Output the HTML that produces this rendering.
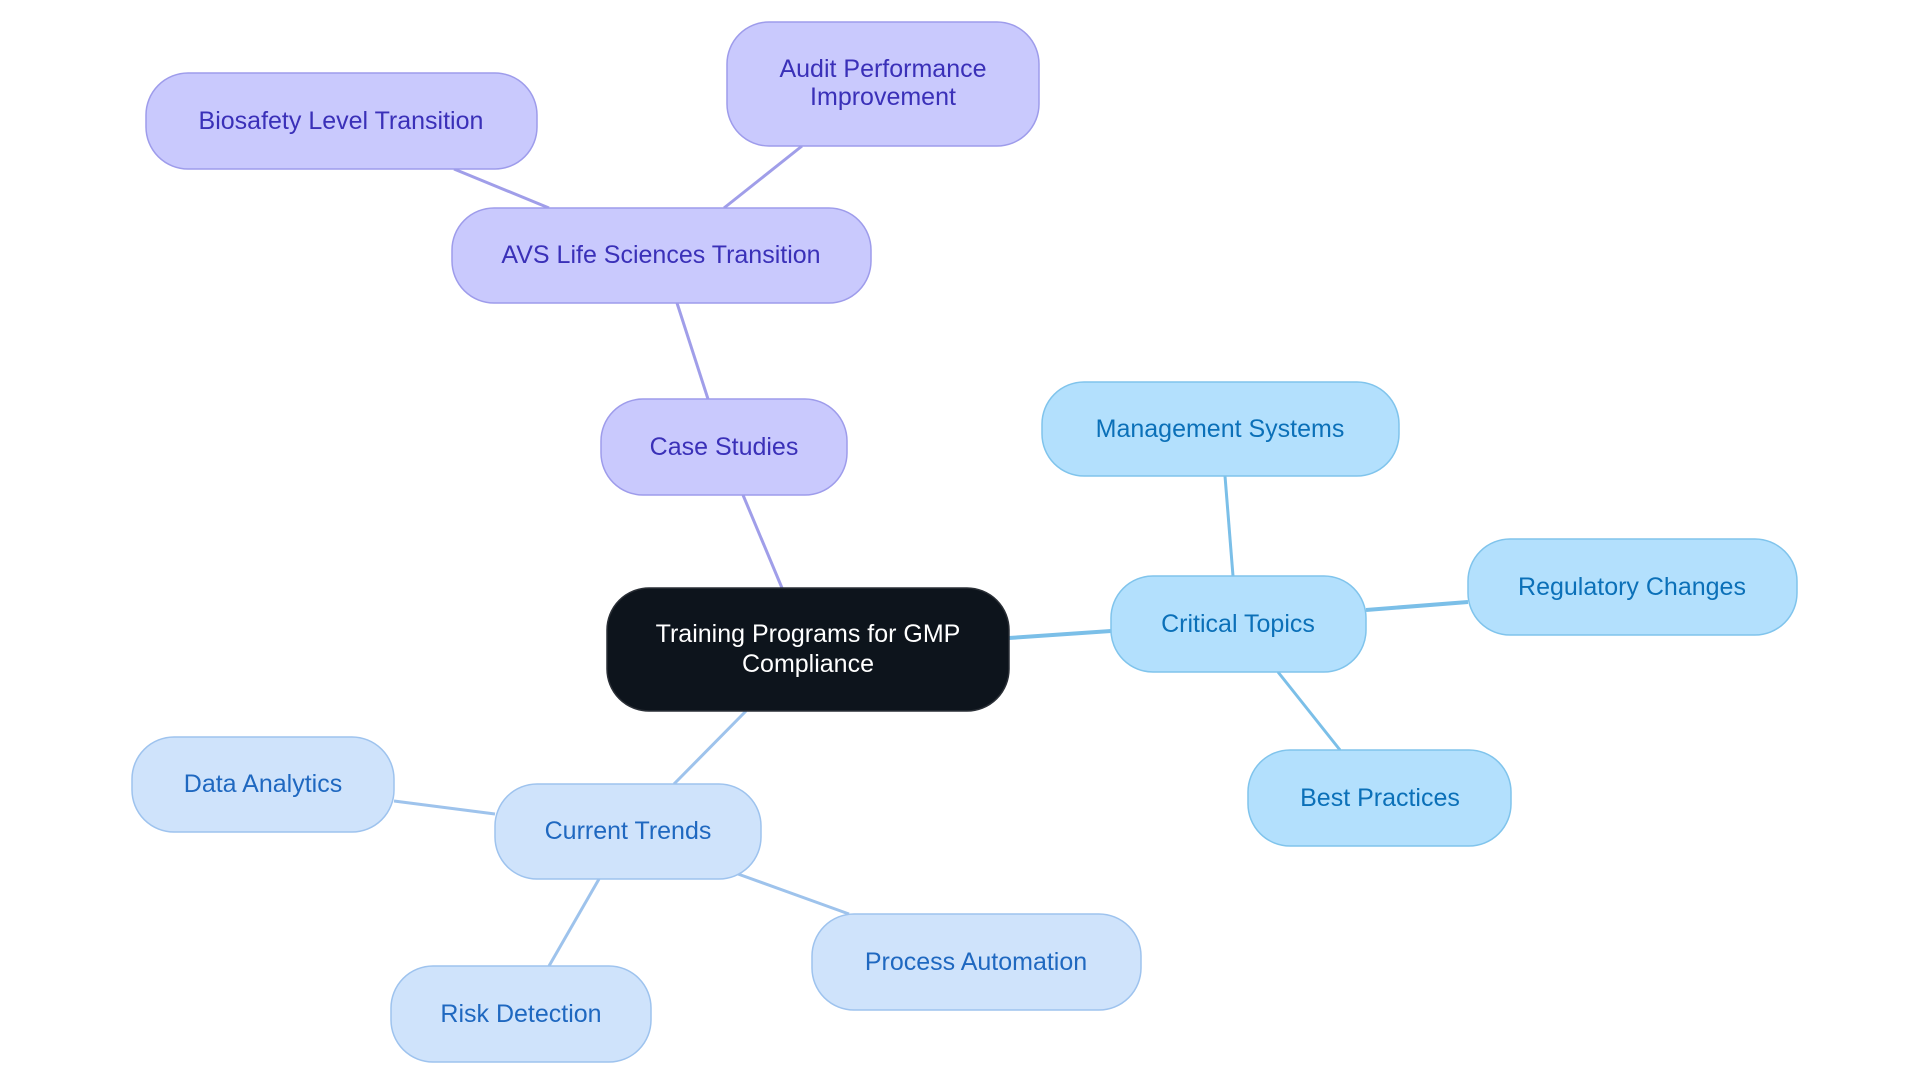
<!DOCTYPE html>
<html><head><meta charset="utf-8"><style>
html,body{margin:0;padding:0;background:#fff;width:1920px;height:1083px;overflow:hidden}
svg{display:block}
text{font-family:"Liberation Sans",sans-serif;font-size:25px;text-anchor:middle;dominant-baseline:central}
</style></head><body>
<svg width="1920" height="1083" viewBox="0 0 1920 1083">
<g stroke-width="3" fill="none">
<line x1="782" y1="588" x2="743" y2="495" stroke="#a09ee9"/>
<line x1="708" y1="399" x2="677" y2="303" stroke="#a09ee9"/>
<line x1="549" y1="208" x2="454" y2="169" stroke="#a09ee9"/>
<line x1="724" y1="208" x2="802" y2="146" stroke="#a09ee9"/>
<line x1="1009" y1="638" x2="1111" y2="631" stroke="#7bbfe8" stroke-width="4"/>
<line x1="1233" y1="576" x2="1225" y2="476" stroke="#7bbfe8"/>
<line x1="1366" y1="610" x2="1468" y2="602" stroke="#7bbfe8" stroke-width="4"/>
<line x1="1278" y1="672" x2="1340" y2="750" stroke="#7bbfe8"/>
<line x1="746" y1="711" x2="674" y2="784" stroke="#9ec3ec"/>
<line x1="495" y1="814" x2="394" y2="801" stroke="#9ec3ec"/>
<line x1="599" y1="879" x2="549" y2="966" stroke="#9ec3ec"/>
<line x1="738" y1="874" x2="849" y2="914" stroke="#9ec3ec"/>
</g>
<g stroke-width="1.5">
<rect x="607" y="588" width="402" height="123" rx="42" fill="#0d141c" stroke="#2a2f36"/>
<g fill="#c9c9fd" stroke="#9e9ceb">
<rect x="601" y="399" width="246" height="96" rx="42"/>
<rect x="452" y="208" width="419" height="95" rx="42"/>
<rect x="146" y="73" width="391" height="96" rx="42"/>
<rect x="727" y="22" width="312" height="124" rx="42"/>
</g>
<g fill="#b3e0fd" stroke="#80c4ec">
<rect x="1111" y="576" width="255" height="96" rx="42"/>
<rect x="1042" y="382" width="357" height="94" rx="42"/>
<rect x="1468" y="539" width="329" height="96" rx="42"/>
<rect x="1248" y="750" width="263" height="96" rx="42"/>
</g>
<g fill="#cfe3fb" stroke="#9ec3ee">
<rect x="495" y="784" width="266" height="95" rx="42"/>
<rect x="132" y="737" width="262" height="95" rx="42"/>
<rect x="812" y="914" width="329" height="96" rx="42"/>
<rect x="391" y="966" width="260" height="96" rx="42"/>
</g>
</g>
<text x="808" y="634" fill="#ffffff">Training Programs for GMP</text>
<text x="808" y="664" fill="#ffffff">Compliance</text>
<g fill="#3a30b8">
<text x="724" y="447">Case Studies</text>
<text x="661" y="255">AVS Life Sciences Transition</text>
<text x="341" y="121">Biosafety Level Transition</text>
<text x="883" y="69">Audit Performance</text>
<text x="883" y="97">Improvement</text>
</g>
<g fill="#0b70b8">
<text x="1238" y="624">Critical Topics</text>
<text x="1220" y="429">Management Systems</text>
<text x="1632" y="587">Regulatory Changes</text>
<text x="1380" y="798">Best Practices</text>
</g>
<g fill="#1f68c0">
<text x="628" y="831">Current Trends</text>
<text x="263" y="784">Data Analytics</text>
<text x="976" y="962">Process Automation</text>
<text x="521" y="1014">Risk Detection</text>
</g>
</svg>
</body></html>
